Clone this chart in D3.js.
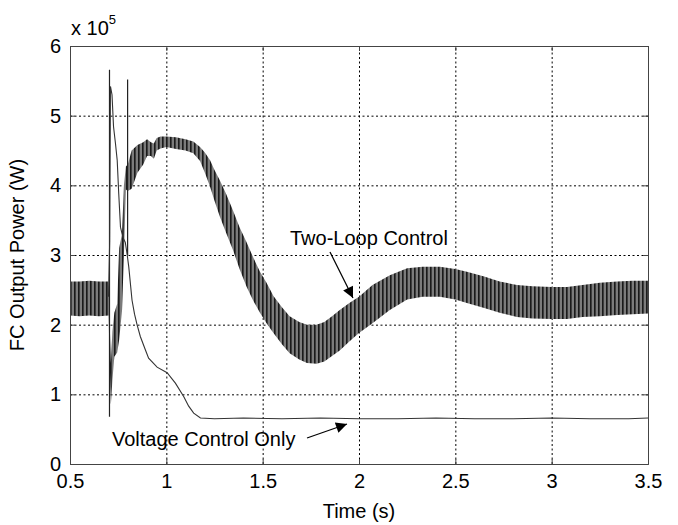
<!DOCTYPE html>
<html>
<head>
<meta charset="utf-8">
<script src="https://cdn.jsdelivr.net/npm/d3@7"></script>
<style>
  body { margin: 0; background: #fff; }
  svg text { font-family: Arial, "Liberation Sans", Helvetica, sans-serif; fill: #000; }
  .tick text { font-size: 20px; }
  .grid line { stroke: #000; stroke-dasharray: 2,2.5; stroke-width: 1; }
</style>
</head>
<body>
<div id="chart"></div>
<script>
// Two-loop control: envelope of the fast ripple band (units of 1e5 W)
var tlTime  = [0.50, 0.55, 0.60, 0.65, 0.70, 0.712, 0.72, 0.73, 0.745, 0.755, 0.77, 0.78, 0.79, 0.80, 0.82, 0.85, 0.88, 0.90, 0.92, 0.935, 0.95, 0.97, 1.00, 1.05, 1.10, 1.14, 1.175, 1.20, 1.227, 1.25, 1.278, 1.31, 1.346, 1.38, 1.417, 1.45, 1.486, 1.52, 1.556, 1.60, 1.64, 1.69, 1.73, 1.78, 1.82, 1.86, 1.90, 1.95, 2.00, 2.07, 2.16, 2.25, 2.33, 2.42, 2.50, 2.56, 2.65, 2.73, 2.82, 2.90, 3.00, 3.08, 3.16, 3.25, 3.34, 3.42, 3.50];
var tlUpper = [2.62, 2.62, 2.63, 2.62, 2.62, 1.45, 1.90, 2.17, 2.30, 3.10, 3.30, 4.00, 4.27, 4.30, 4.50, 4.58, 4.62, 4.66, 4.62, 4.60, 4.68, 4.70, 4.70, 4.69, 4.66, 4.63, 4.55, 4.47, 4.36, 4.22, 4.07, 3.88, 3.64, 3.40, 3.18, 2.97, 2.76, 2.60, 2.41, 2.25, 2.12, 2.04, 2.00, 2.00, 2.04, 2.12, 2.21, 2.31, 2.40, 2.57, 2.71, 2.81, 2.83, 2.83, 2.80, 2.76, 2.69, 2.62, 2.57, 2.55, 2.54, 2.54, 2.57, 2.60, 2.62, 2.63, 2.63];
var tlLower = [2.13, 2.12, 2.13, 2.12, 2.13, 0.85, 1.20, 1.54, 1.60, 1.78, 2.20, 3.00, 3.94, 3.92, 3.95, 4.18, 4.30, 4.42, 4.42, 4.38, 4.50, 4.53, 4.55, 4.52, 4.50, 4.46, 4.35, 4.18, 3.98, 3.78, 3.55, 3.32, 3.07, 2.80, 2.54, 2.35, 2.17, 2.02, 1.88, 1.72, 1.59, 1.50, 1.45, 1.44, 1.47, 1.55, 1.63, 1.76, 1.88, 2.02, 2.21, 2.36, 2.40, 2.40, 2.36, 2.31, 2.24, 2.17, 2.11, 2.09, 2.08, 2.08, 2.11, 2.12, 2.14, 2.15, 2.16];

// Two-loop control: the two tall switching spikes
var spikeTime   = [0.705, 0.799];
var spikeTop    = [5.66, 5.52];
var spikeBottom = [0.68, 3.00];

// Voltage control only
var vcTime  = [0.700, 0.706, 0.710, 0.718, 0.726, 0.736, 0.745, 0.753, 0.762, 0.775, 0.787, 0.797, 0.805, 0.822, 0.835, 0.848, 0.865, 0.891, 0.908, 0.952, 1.004, 1.047, 1.090, 1.116, 1.142, 1.177, 1.25, 1.40, 1.60, 1.80, 2.00, 2.20, 2.40, 2.60, 2.80, 3.00, 3.20, 3.40, 3.50];
var vcPower = [2.40, 3.20, 5.42, 5.30, 4.84, 4.60, 4.36, 3.88, 3.40, 3.25, 3.18, 3.00, 2.83, 2.35, 2.15, 2.00, 1.83, 1.64, 1.52, 1.39, 1.31, 1.16, 0.97, 0.83, 0.73, 0.66, 0.65, 0.66, 0.65, 0.66, 0.65, 0.65, 0.66, 0.65, 0.65, 0.66, 0.65, 0.65, 0.66];

var xTicks = [0.5, 1, 1.5, 2, 2.5, 3, 3.5];
var yTicks = [0, 1, 2, 3, 4, 5, 6];

var svgWidth = 678;
var svgHeight = 525;
var margin = { top: 46, right: 30, bottom: 61, left: 70 };
var width = svgWidth - margin.left - margin.right;
var height = svgHeight - margin.top - margin.bottom;

var svg = d3.select("#chart")
  .append("svg")
  .attr("width", svgWidth)
  .attr("height", svgHeight);

// stripe pattern for the ripple band
var defs = svg.append("defs");
var pat = defs.append("pattern")
  .attr("id", "ripple")
  .attr("patternUnits", "userSpaceOnUse")
  .attr("width", 4)
  .attr("height", 8);
pat.append("rect").attr("width", 4).attr("height", 8).attr("fill", "#8e8e8e");
pat.append("rect").attr("width", 1.7).attr("height", 8).attr("fill", "#1a1a1a");
pat.append("rect").attr("x", 2.6).attr("width", 0.8).attr("height", 8).attr("fill", "#5e5e5e");

var chartGroup = svg.append("g")
  .attr("transform", `translate(${margin.left}, ${margin.top})`);

var x = d3.scaleLinear().domain([0.5, 3.5]).range([0, width]);
var y = d3.scaleLinear().domain([0, 6]).range([height, 0]);

// grid
chartGroup.append("g")
  .attr("class", "grid")
  .attr("transform", `translate(0, ${height})`)
  .call(d3.axisBottom(x).tickValues(xTicks.slice(1, -1)).tickSize(-height).tickFormat(""))
  .call(g => g.select(".domain").remove());

chartGroup.append("g")
  .attr("class", "grid")
  .call(d3.axisLeft(y).tickValues(yTicks.slice(1, -1)).tickSize(-width).tickFormat(""))
  .call(g => g.select(".domain").remove());

// two-loop band
var band = tlTime.map((t, i) => ({ t: t, hi: tlUpper[i], lo: tlLower[i] }));
var area = d3.area()
  .x(d => x(d.t))
  .y0(d => y(d.lo))
  .y1(d => y(d.hi));

chartGroup.append("path")
  .datum(band)
  .attr("d", area)
  .attr("fill", "url(#ripple)");

chartGroup.selectAll(".spike")
  .data(spikeTime.map((t, i) => ({ t: t, top: spikeTop[i], bottom: spikeBottom[i] })))
  .enter()
  .append("line")
  .attr("class", "spike")
  .attr("x1", d => x(d.t))
  .attr("x2", d => x(d.t))
  .attr("y1", d => y(d.top))
  .attr("y2", d => y(d.bottom))
  .attr("stroke", "#222")
  .attr("stroke-width", 1.2);

// voltage control only
var line = d3.line()
  .x(d => x(d.t))
  .y(d => y(d.p));

chartGroup.append("path")
  .datum(vcTime.map((t, i) => ({ t: t, p: vcPower[i] })))
  .attr("d", line)
  .attr("fill", "none")
  .attr("stroke", "#333")
  .attr("stroke-width", 1.1);

// axes box with inward ticks
var bottomAxis = d3.axisBottom(x).tickValues(xTicks).tickSize(-5).tickPadding(10).tickFormat(d3.format("~g"));
var leftAxis = d3.axisLeft(y).tickValues(yTicks).tickSize(-5).tickPadding(9).tickFormat(d3.format("d"));
var topAxis = d3.axisTop(x).tickValues(xTicks).tickSize(-5).tickFormat("");
var rightAxis = d3.axisRight(y).tickValues(yTicks).tickSize(-5).tickFormat("");

chartGroup.append("g").attr("transform", `translate(0, ${height})`).call(bottomAxis);
chartGroup.append("g").call(leftAxis);
chartGroup.append("g").call(topAxis).selectAll("text").remove();
chartGroup.append("g").attr("transform", `translate(${width}, 0)`).call(rightAxis);

chartGroup.selectAll(".domain, .tick line").attr("stroke", "#444");
chartGroup.selectAll(".grid .tick line").attr("stroke", "#000");
chartGroup.selectAll(".tick text").style("font-size", "20px");

// exponent label
var expo = chartGroup.append("text")
  .attr("x", 1)
  .attr("y", -11)
  .style("font-size", "20px");
expo.append("tspan").text("x 10");
expo.append("tspan").attr("dy", -11).style("font-size", "13px").text("5");

// axis titles
chartGroup.append("text")
  .attr("x", width / 2)
  .attr("y", height + 54)
  .attr("text-anchor", "middle")
  .style("font-size", "20px")
  .text("Time (s)");

chartGroup.append("text")
  .attr("transform", `translate(${-46}, ${height / 2}) rotate(-90)`)
  .attr("text-anchor", "middle")
  .style("font-size", "20px")
  .text("FC Output Power (W)");

// annotations
var arrowGroup = chartGroup.append("g");
defs.append("marker")
  .attr("id", "head")
  .attr("viewBox", "0 0 10 10")
  .attr("refX", 10)
  .attr("refY", 5)
  .attr("markerUnits", "userSpaceOnUse")
  .attr("markerWidth", 16)
  .attr("markerHeight", 11)
  .attr("orient", "auto")
  .append("path")
  .attr("d", "M0,0 L10,5 L0,10 Z")
  .attr("fill", "#000");

chartGroup.append("text")
  .attr("x", 290 - margin.left)
  .attr("y", 245 - margin.top)
  .style("font-size", "20px")
  .text("Two-Loop Control");

arrowGroup.append("line")
  .attr("x1", 330 - margin.left).attr("y1", 252 - margin.top)
  .attr("x2", 353 - margin.left).attr("y2", 298 - margin.top)
  .attr("stroke", "#000").attr("stroke-width", 1.2)
  .attr("marker-end", "url(#head)");

chartGroup.append("text")
  .attr("x", 112 - margin.left)
  .attr("y", 446 - margin.top)
  .style("font-size", "20px")
  .text("Voltage Control Only");

arrowGroup.append("line")
  .attr("x1", 307 - margin.left).attr("y1", 438 - margin.top)
  .attr("x2", 347 - margin.left).attr("y2", 424 - margin.top)
  .attr("stroke", "#000").attr("stroke-width", 1.2)
  .attr("marker-end", "url(#head)");
</script>
</body>
</html>
